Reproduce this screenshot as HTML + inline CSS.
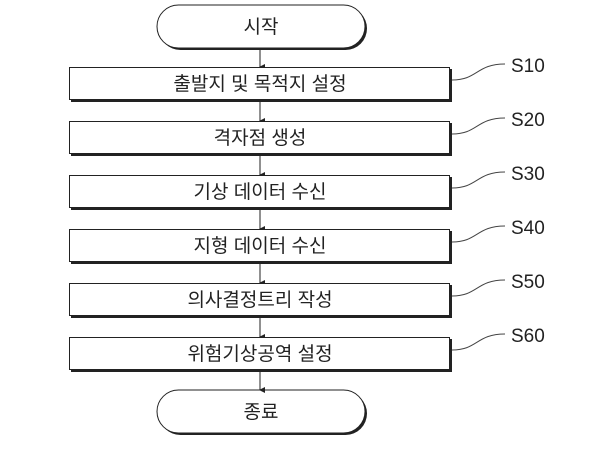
<!DOCTYPE html>
<html><head><meta charset="utf-8"><style>
body{margin:0;background:#fff;}
svg text{font-family:"Liberation Sans","Noto Sans CJK KR",sans-serif;fill:#222;}
</style></head><body>
<svg width="600" height="444" viewBox="0 0 600 444" xmlns="http://www.w3.org/2000/svg">
<defs><marker id="a" markerWidth="6" markerHeight="6" refX="3" refY="5" orient="auto" markerUnits="userSpaceOnUse"><path d="M0,0 L6,0 L3,6 z" fill="#222"/></marker></defs>
<g stroke="#222" fill="none">
<rect x="159" y="7" width="208" height="43" rx="21.5" fill="#222" stroke="none"/>
<rect x="157" y="5" width="208" height="43" rx="21.5" fill="#fff" stroke-width="1"/>
<rect x="159" y="392" width="208" height="43" rx="21.5" fill="#222" stroke="none"/>
<rect x="157" y="390" width="208" height="43" rx="21.5" fill="#fff" stroke-width="1"/>
<g stroke-width="1">
<line x1="260" y1="48" x2="260" y2="67" marker-end="url(#a)"/>
<line x1="260" y1="102" x2="260" y2="121" marker-end="url(#a)"/>
<line x1="260" y1="156" x2="260" y2="175" marker-end="url(#a)"/>
<line x1="260" y1="210" x2="260" y2="229" marker-end="url(#a)"/>
<line x1="260" y1="264" x2="260" y2="283" marker-end="url(#a)"/>
<line x1="260" y1="318" x2="260" y2="337" marker-end="url(#a)"/>
<line x1="260" y1="372" x2="260" y2="390" marker-end="url(#a)"/>
</g>
</g>
<g>
<g transform="translate(0,67)"><rect x="71" y="2" width="381" height="33" fill="#222"/><rect x="69.5" y="0.5" width="380" height="32" fill="#fff" stroke="#222"/><path d="M452,13 C478,13 476,-3 505,-3" stroke="#444" fill="none"/><text x="511" y="5" font-size="19">S10</text><text x="260" y="23" font-size="19" text-anchor="middle">출발지 및 목적지 설정</text></g>
<g transform="translate(0,121)"><rect x="71" y="2" width="381" height="33" fill="#222"/><rect x="69.5" y="0.5" width="380" height="32" fill="#fff" stroke="#222"/><path d="M452,13 C478,13 476,-3 505,-3" stroke="#444" fill="none"/><text x="511" y="5" font-size="19">S20</text><text x="260" y="23" font-size="19" text-anchor="middle">격자점 생성</text></g>
<g transform="translate(0,175)"><rect x="71" y="2" width="381" height="33" fill="#222"/><rect x="69.5" y="0.5" width="380" height="32" fill="#fff" stroke="#222"/><path d="M452,13 C478,13 476,-3 505,-3" stroke="#444" fill="none"/><text x="511" y="5" font-size="19">S30</text><text x="260" y="23" font-size="19" text-anchor="middle">기상 데이터 수신</text></g>
<g transform="translate(0,229)"><rect x="71" y="2" width="381" height="33" fill="#222"/><rect x="69.5" y="0.5" width="380" height="32" fill="#fff" stroke="#222"/><path d="M452,13 C478,13 476,-3 505,-3" stroke="#444" fill="none"/><text x="511" y="5" font-size="19">S40</text><text x="260" y="23" font-size="19" text-anchor="middle">지형 데이터 수신</text></g>
<g transform="translate(0,283)"><rect x="71" y="2" width="381" height="33" fill="#222"/><rect x="69.5" y="0.5" width="380" height="32" fill="#fff" stroke="#222"/><path d="M452,13 C478,13 476,-3 505,-3" stroke="#444" fill="none"/><text x="511" y="5" font-size="19">S50</text><text x="260" y="23" font-size="19" text-anchor="middle">의사결정트리 작성</text></g>
<g transform="translate(0,337)"><rect x="71" y="2" width="381" height="33" fill="#222"/><rect x="69.5" y="0.5" width="380" height="32" fill="#fff" stroke="#222"/><path d="M452,13 C478,13 476,-3 505,-3" stroke="#444" fill="none"/><text x="511" y="5" font-size="19">S60</text><text x="260" y="23" font-size="19" text-anchor="middle">위험기상공역 설정</text></g>
</g>
<text x="261" y="33" font-size="19" text-anchor="middle">시작</text>
<text x="261" y="418" font-size="19" text-anchor="middle">종료</text>
</svg>
</body></html>
